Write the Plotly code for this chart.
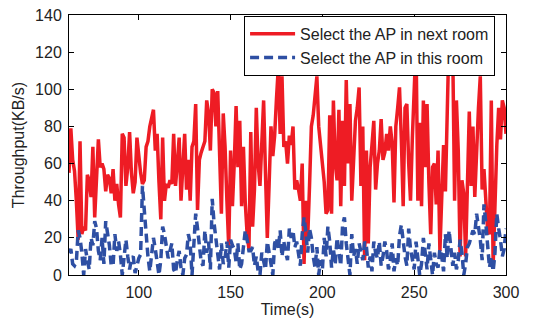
import plotly.graph_objects as go

time_s = list(range(62, 301))

next_room = [
    55, 79, 62, 56, 40, 19, 72, 22, 26, 24, 54, 51, 42, 69, 31, 55, 73, 58, 60, 57,
    45, 54, 52, 44, 57, 40, 49, 38, 31, 76, 74, 48, 58, 77, 55, 44, 50, 74, 62, 55,
    49, 51, 69, 72, 80, 85, 89, 67, 76, 50, 30, 74, 40, 49, 47, 51, 49, 76, 48, 60,
    74, 40, 60, 76, 46, 62, 40, 69, 72, 92, 35, 62, 66, 69, 72, 94, 87, 67, 100, 98,
    80, 99, 60, 33, 87, 69, 40, 15, 67, 37, 60, 91, 58, 83, 37, 69, 39, 22, 14, 77,
    26, 46, 90, 60, 48, 70, 94, 55, 20, 49, 80, 64, 75, 95,
    112, 76, 107, 69, 72, 60, 75, 70, 80, 46, 51, 46, 40, 60, 6, 40, 20, 48, 80, 86,
    95, 107, 80, 70, 64, 50, 33, 35, 86, 33, 94, 60, 51, 89, 37, 83, 48, 105, 60, 92,
    40, 60, 83, 90, 101, 48, 80, 8, 67, 17, 58, 70, 83, 46, 60, 67, 84, 62, 66, 76,
    67, 80, 71, 39, 80, 90, 101, 73, 37, 90, 92, 60, 40, 74, 95, 125, 40, 82, 37, 94,
    58, 92, 50, 22, 58, 60, 38, 67, 13, 50, 70, 45, 90, 130, 112, 120, 40, 94, 67, 10,
    51, 44, 10, 60, 88, 48, 80, 42, 71, 90, 107, 46, 57, 40, 24, 22, 94, 5, 44, 70,
    90, 73, 94, 90, 76,
]

this_room = [
    12, 14, 6, 5, 7, 24, 20, 12, 0, 14, 8, 3, 20, 16, 29, 25, 13, 8, 20, 6,
    29, 22, 16, 5, 5, 22, 13, 18, 11, 0, 9, 19, 10, 3, 9, 10, 1, 5, 9, 11,
    48, 35, 20, 10, 2, 12, 20, 14, 8, 0, 8, 26, 22, 15, 9, 13, 17, 3, 1, 8,
    13, 4, 0, 9, 11, 22, 17, 0, 18, 33, 25, 14, 7, 5, 24, 12, 18, 3, 41, 28,
    20, 10, 3, 17, 6, 9, 18, 4, 19, 16, 14, 7, 17, 3, 6, 15, 24, 19, 13, 13,
    15, 5, 10, 2, 0, 12, 8, 3, 18, 12, 6, 0, 17, 20, 14, 24, 10, 18, 12, 8,
    25, 20, 24, 15, 18, 10, 5, 22, 31, 23, 12, 25, 20, 10, 4, 15, 0, 8, 3, 20,
    10, 26, 18, 4, 14, 6, 20, 13, 5, 27, 31, 17, 8, 0, 22, 10, 14, 6, 17, 13,
    8, 18, 15, 4, 10, 2, 18, 12, 9, 18, 5, 10, 18, 13, 3, 8, 17, 2, 9, 5,
    21, 27, 17, 10, 5, 25, 14, 9, 3, 18, 10, 0, 6, 20, 12, 3, 17, 8, 0, 12,
    6, 4, 14, 10, 2, 22, 9, 24, 16, 5, 12, 3, 8, 19, 12, 0, 6, 15, 17, 20,
    24, 22, 33, 26, 19, 8, 38, 28, 16, 4, 10, 2, 12, 33, 25, 19, 10, 14, 25,
]

x_ticks = [100, 150, 200, 250, 300]
y_ticks = [0, 20, 40, 60, 80, 100, 120, 140]

FONT = "Liberation Sans, Arial, sans-serif"

fig = go.Figure()
fig.add_trace(go.Scatter(
    x=time_s, y=next_room, mode="lines", name="Select the AP in next room",
    line=dict(color="#EE1C24", width=3.5),
))
fig.add_trace(go.Scatter(
    x=time_s, y=this_room, mode="lines", name="Select the AP in this room",
    line=dict(color="#2E4FA3", width=3.5, dash="9px,5px"),
))

axis_common = dict(
    showline=True, linecolor="black", linewidth=1, mirror="ticks",
    ticks="inside", ticklen=5, tickcolor="black", showgrid=False, zeroline=False,
    tickfont=dict(family=FONT, size=16, color="#222"),
    ticklabelstandoff=3, automargin=False,
)

fig.update_layout(
    width=546, height=322,
    margin=dict(l=69, r=40, t=15, b=47),
    paper_bgcolor="white", plot_bgcolor="white",
    font=dict(family=FONT, size=16, color="#222"),
    xaxis=dict(range=[62, 300], tickvals=x_ticks,
               title=dict(text="Time(s)", standoff=0, font=dict(size=16)), **axis_common),
    yaxis=dict(range=[0, 140], tickvals=y_ticks,
               title=dict(text="Throughput(KB/s)", standoff=6, font=dict(size=16)), **axis_common),
    legend=dict(x=0.975, y=0.997, xanchor="right", yanchor="top",
                bgcolor="white", bordercolor="black", borderwidth=1,
                font=dict(family=FONT, size=16, color="#222"),
                tracegroupgap=0, itemwidth=45),
    showlegend=True,
)

fig.write_html("out.html", config={"displayModeBar": False},
               post_script="document.body.style.margin='0';")
